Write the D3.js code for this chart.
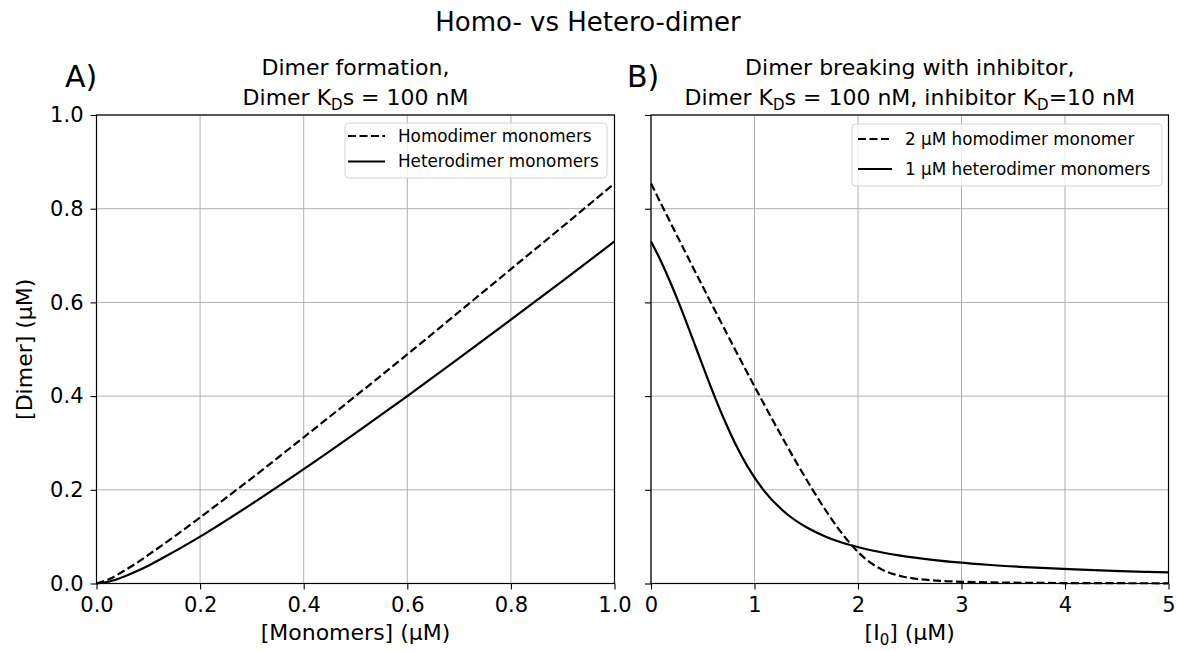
<!DOCTYPE html>
<html>
<head>
<meta charset="utf-8">
<script src="https://cdn.jsdelivr.net/npm/d3@7"></script>
<style>
    body { margin: 0; background: #fff; }
    svg { display: block; font-family: "DejaVu Sans", sans-serif; }
    .grid line { stroke: #b0b0b0; stroke-width: 1; }
</style>
</head>
<body>
<script>
// panel A: dimer vs total monomer (uM)
var monomerX = [0, 0.025, 0.05, 0.075, 0.1, 0.15, 0.2, 0.3, 0.4, 0.5, 0.6, 0.7, 0.8, 0.9, 1.0];
var homoDimer = [0, 0.0096, 0.025, 0.042, 0.061, 0.100, 0.141, 0.225, 0.312, 0.400, 0.489, 0.580, 0.671, 0.762, 0.854];
var heteroDimer = [0, 0.0043, 0.0134, 0.025, 0.038, 0.068, 0.100, 0.170, 0.244, 0.321, 0.400, 0.481, 0.563, 0.646, 0.730];

// panel B: dimer vs inhibitor (uM)
var inhibHomoX = [0, 0.121, 0.348, 0.578, 0.811, 1.05, 1.298, 1.427, 1.562, 1.706, 1.801, 1.87, 1.946, 2.035, 2.088, 2.150, 2.229, 2.344, 2.43, 2.565, 2.700, 2.848, 3.118, 3.384, 3.605, 3.976, 4.369, 4.809, 5.0];
var inhibHomoY = [0.854, 0.80, 0.70, 0.60, 0.50, 0.40, 0.30, 0.25, 0.20, 0.15, 0.12, 0.10, 0.08, 0.06, 0.05, 0.04, 0.03, 0.02, 0.015, 0.010, 0.007, 0.005, 0.003, 0.002, 0.0015, 0.001, 0.0007, 0.0005, 0.00045];
var inhibHeteroX = [0, 0.0695, 0.173, 0.267, 0.355, 0.44, 0.525, 0.613, 0.707, 0.811, 0.932, 1.085, 1.304, 1.502, 1.689, 1.959, 2.148, 2.396, 2.740, 2.967, 3.250, 3.612, 4.093, 4.466, 4.765, 5.0];
var inhibHeteroY = [0.730, 0.70, 0.65, 0.60, 0.55, 0.50, 0.45, 0.40, 0.35, 0.30, 0.25, 0.20, 0.15, 0.12, 0.10, 0.08, 0.07, 0.06, 0.05, 0.045, 0.04, 0.035, 0.03, 0.027, 0.025, 0.0237];

var xTicksA = [0, 0.2, 0.4, 0.6, 0.8, 1.0];
var xTicksB = [0, 1, 2, 3, 4, 5];
var yTicks = [0, 0.2, 0.4, 0.6, 0.8, 1.0];

var legendA = ["Homodimer monomers", "Heterodimer monomers"];
var legendB = ["2 \u03bcM homodimer monomer", "1 \u03bcM heterodimer monomers"];

var width = 1177, height = 651;
var plotTop = 115, plotBottom = 583.5;
var DASH = "8,3.5";

var svg = d3.select("body")
    .append("svg")
    .attr("width", width)
    .attr("height", height);

var y = d3.scaleLinear().domain([0, 1]).range([plotBottom, plotTop]);

function zip(xs, ys) {
    return xs.map(function (v, i) { return [v, ys[i]]; });
}

function drawPanel(x, xTicks, xFormat, showYLabels) {
    var g = svg.append("g");

    // grid
    var grid = g.append("g").attr("class", "grid");
    grid.selectAll(".gx").data(xTicks).enter().append("line")
        .attr("x1", function (d) { return x(d); })
        .attr("x2", function (d) { return x(d); })
        .attr("y1", plotTop).attr("y2", plotBottom);
    grid.selectAll(".gy").data(yTicks).enter().append("line")
        .attr("x1", x.range()[0]).attr("x2", x.range()[1])
        .attr("y1", function (d) { return y(d); })
        .attr("y2", function (d) { return y(d); });

    var xAxis = g.append("g")
        .attr("transform", "translate(0," + plotBottom + ")")
        .call(d3.axisBottom(x).tickValues(xTicks).tickFormat(xFormat).tickSize(6).tickPadding(8));
    var yAxis = g.append("g")
        .attr("transform", "translate(" + x.range()[0] + ",0)")
        .call(d3.axisLeft(y).tickValues(yTicks).tickFormat(showYLabels ? d3.format(".1f") : "").tickSize(6).tickPadding(7));

    [xAxis, yAxis].forEach(function (a) {
        a.attr("font-family", null).attr("font-size", 21);
        a.select(".domain").remove();
        a.selectAll("line").attr("stroke", "#000").attr("stroke-width", 1.1);
        a.selectAll("text").attr("fill", "#000");
    });

    return g;
}

function drawFrame(g, x) {
    g.append("rect")
        .attr("x", x.range()[0]).attr("y", plotTop)
        .attr("width", x.range()[1] - x.range()[0])
        .attr("height", plotBottom - plotTop)
        .attr("fill", "none").attr("stroke", "#000").attr("stroke-width", 1.2);
}

// box = [x, y, w, h, first row offset, handle inset, handle length]
function drawLegend(g, labels, box, fontSize, rowGap) {
    var lg = g.append("g");
    lg.append("rect")
        .attr("x", box[0]).attr("y", box[1])
        .attr("width", box[2]).attr("height", box[3])
        .attr("rx", 4)
        .attr("fill", "rgba(255,255,255,0.8)")
        .attr("stroke", "#d4d4d4");
    labels.forEach(function (label, i) {
        var ry = box[1] + box[4] + i * rowGap;
        lg.append("line")
            .attr("x1", box[0] + box[5]).attr("x2", box[0] + box[5] + box[6])
            .attr("y1", ry).attr("y2", ry)
            .attr("stroke", "#000").attr("stroke-width", 2.2)
            .attr("stroke-dasharray", i === 0 ? DASH : null);
        lg.append("text")
            .attr("x", box[0] + box[5] + box[6] + 13).attr("y", ry)
            .attr("dy", "0.35em")
            .attr("font-size", fontSize)
            .text(label);
    });
}

// text with subscript pieces
function richText(t, parts) {
    var shifted = false;
    parts.forEach(function (p) {
        var s = t.append("tspan").text(p.text);
        if (p.sub) {
            s.attr("font-size", 15).attr("dy", 5);
            shifted = true;
        } else if (shifted) {
            s.attr("dy", -5);
            shifted = false;
        }
    });
}

var line = d3.line().curve(d3.curveMonotoneX);

// ---- panel A
var xA = d3.scaleLinear().domain([0, 1]).range([96.5, 614.5]);
var gA = drawPanel(xA, xTicksA, d3.format(".1f"), true);
line.x(function (d) { return xA(d[0]); }).y(function (d) { return y(d[1]); });
gA.append("path").attr("d", line(zip(monomerX, homoDimer)))
    .attr("fill", "none").attr("stroke", "#000").attr("stroke-width", 2.2).attr("stroke-dasharray", DASH);
gA.append("path").attr("d", line(zip(monomerX, heteroDimer)))
    .attr("fill", "none").attr("stroke", "#000").attr("stroke-width", 2.2);
drawFrame(gA, xA);
drawLegend(gA, legendA, [345, 123, 262, 55, 13, 3, 37], 16.8, 25.5);

// ---- panel B
var xB = d3.scaleLinear().domain([0, 5]).range([651, 1168.5]);
var gB = drawPanel(xB, xTicksB, d3.format("d"), false);
line.x(function (d) { return xB(d[0]); }).y(function (d) { return y(d[1]); });
gB.append("path").attr("d", line(zip(inhibHomoX, inhibHomoY)))
    .attr("fill", "none").attr("stroke", "#000").attr("stroke-width", 2.2).attr("stroke-dasharray", DASH);
gB.append("path").attr("d", line(zip(inhibHeteroX, inhibHeteroY)))
    .attr("fill", "none").attr("stroke", "#000").attr("stroke-width", 2.2);
drawFrame(gB, xB);
drawLegend(gB, legendB, [852, 124, 310, 62, 15, 6, 34], 16.8, 30);

// ---- texts
svg.append("text")
    .attr("x", 588).attr("y", 31)
    .attr("text-anchor", "middle").attr("font-size", 26)
    .text("Homo- vs Hetero-dimer");

function subTitle(cx, line1, parts) {
    svg.append("text")
        .attr("x", cx).attr("y", 75)
        .attr("text-anchor", "middle").attr("font-size", 22)
        .text(line1);
    var t = svg.append("text")
        .attr("x", cx).attr("y", 105)
        .attr("text-anchor", "middle").attr("font-size", 22);
    richText(t, parts);
}

subTitle((96.5 + 614.5) / 2, "Dimer formation,", [
    {text: "Dimer K"}, {text: "D", sub: true}, {text: "s = 100 nM"}
]);
subTitle((651 + 1168.5) / 2, "Dimer breaking with inhibitor,", [
    {text: "Dimer K"}, {text: "D", sub: true}, {text: "s = 100 nM, inhibitor K"},
    {text: "D", sub: true}, {text: "=10 nM"}
]);

svg.append("text").attr("x", 65).attr("y", 87).attr("font-size", 30).text("A)");
svg.append("text").attr("x", 627).attr("y", 87).attr("font-size", 30).text("B)");

svg.append("text")
    .attr("x", (96.5 + 614.5) / 2).attr("y", 640)
    .attr("text-anchor", "middle").attr("font-size", 22)
    .text("[Monomers] (\u03bcM)");

var xlB = svg.append("text")
    .attr("x", (651 + 1168.5) / 2).attr("y", 640)
    .attr("text-anchor", "middle").attr("font-size", 22);
richText(xlB, [{text: "[I"}, {text: "0", sub: true}, {text: "] (\u03bcM)"}]);

svg.append("text")
    .attr("transform", "translate(32," + ((plotTop + plotBottom) / 2) + ") rotate(-90)")
    .attr("text-anchor", "middle").attr("font-size", 22)
    .text("[Dimer] (\u03bcM)");
</script>
</body>
</html>
